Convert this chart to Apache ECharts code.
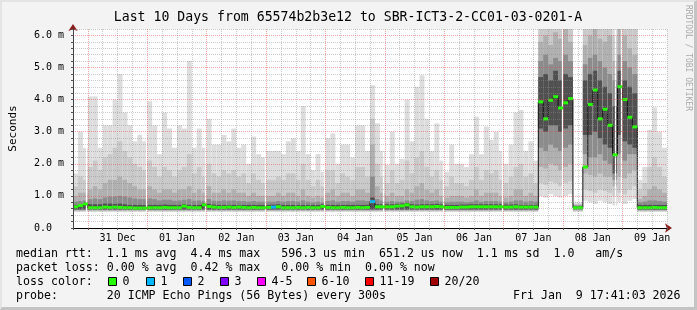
<!DOCTYPE html>
<html><head><meta charset="utf-8">
<script src="https://cdn.jsdelivr.net/npm/echarts@6/dist/echarts.min.js"></script>
<style>
html,body{margin:0;padding:0;background:#f3f3f3}
#wrap{position:relative;width:697px;height:310px}
#c{width:697px;height:310px}
#b{position:absolute;left:0;top:0;width:697px;height:310px;box-sizing:border-box;border-top:2px solid #e4e4e4;border-left:2px solid #e4e4e4;border-right:3px solid #c4c4c4;border-bottom:3px solid #c4c4c4;pointer-events:none}
</style></head><body>
<div id="wrap"><div id="c"></div><div id="b"></div></div>
<script>
// ---- data (hours counted from 30 Dec 00:00; one column = 2 h) ----
const startHour = 18;
const stepHours = 2;
const dayLabels = ['31 Dec','01 Jan','02 Jan','03 Jan','04 Jan','05 Jan','06 Jan','07 Jan','08 Jan','09 Jan'];
const gapHours = [23.5, 47.5, 71.5, 95.5, 119.5, 143.5, 167.5, 191.5, 215.5, 237.2, 239.5];

// smoke bands (ms): outermost (lightest) L1 .. innermost (darkest) L5
const L1lo = [
0.5,0.5,0.5,0.5,0.5,0.5,0.5,0.5,0.5,0.5, 0.5,0.5,0.5,0.5,0.5,0.5,0.5,0.5,0.5,0.5,
0.5,0.5,0.5,0.5,0.5,0.5,0.5,0.5,0.5,0.5, 0.5,0.5,0.5,0.5,0.5,0.5,0.5,0.5,0.5,0.5,
0.5,0.5,0.5,0.5,0.5,0.5,0.5,0.5,0.5,0.5, 0.5,0.5,0.5,0.5,0.5,0.5,0.5,0.5,0.5,0.5,
0.5,0.5,0.5,0.5,0.5,0.5,0.5,0.5,0.5,0.5, 0.5,0.5,0.5,0.5,0.5,0.5,0.5,0.5,0.5,0.5,
0.5,0.5,0.5,0.5,0.5,0.5,0.5,0.5,0.5,0.5, 0.5,0.5,0.5,0.5,1.0,0.95,1.05,1.0,0.95,1.0,
1.05,0.5,0.5,0.85,0.8,0.75,0.85,0.8,0.75,0.7, 0.8,0.75,0.85,0.9,0.5,0.5,0.5,0.5,0.5,0.5];
const L1hi = [
1.7,3.0,2.5,4.1,4.1,2.5,3.2,3.2,4.0,4.8, 3.6,3.2,2.7,2.9,2.7,3.95,3.2,2.3,3.6,3.1,
2.5,3.2,3.1,5.2,2.5,3.1,2.5,3.4,2.6,2.6, 2.9,2.7,3.1,2.5,2.6,2.0,2.85,2.3,2.2,2.4,
2.4,2.4,2.3,2.7,2.8,2.4,3.8,2.3,1.8,2.3, 1.75,2.8,2.95,2.0,2.6,2.6,2.2,3.2,3.2,2.4,
4.45,3.26,2.4,1.97,3.0,2.0,2.15,4.0,2.7,4.4, 4.76,3.4,2.4,3.26,2.1,1.75,2.6,2.0,2.0,1.9,
2.3,3.47,2.3,3.16,2.75,3.0,2.4,2.0,2.6,3.6, 3.68,2.4,2.7,2.1,7,7,7,7,7,7,
7,0.8,0.8,7,7,7,7,7,7,7, 7,7,7,7,1.5,1.9,3.06,3.76,3.0,2.5];
const L2lo = [
0.52,0.52,0.52,0.52,0.52,0.52,0.52,0.52,0.52,0.52, 0.52,0.52,0.52,0.52,0.52,0.52,0.52,0.52,0.52,0.52,
0.52,0.52,0.52,0.52,0.52,0.52,0.52,0.52,0.52,0.52, 0.52,0.52,0.52,0.52,0.52,0.52,0.52,0.52,0.52,0.52,
0.52,0.52,0.52,0.52,0.52,0.52,0.52,0.52,0.52,0.52, 0.52,0.52,0.52,0.52,0.52,0.52,0.52,0.52,0.52,0.52,
0.52,0.52,0.52,0.52,0.52,0.52,0.52,0.52,0.52,0.52, 0.52,0.52,0.52,0.52,0.52,0.52,0.52,0.52,0.52,0.52,
0.52,0.52,0.52,0.52,0.52,0.52,0.52,0.52,0.52,0.52, 0.52,0.52,0.52,0.52,1.4,1.35,1.45,1.4,1.3,1.4,
1.45,0.53,0.53,1.2,1.15,1.1,1.2,1.15,1.1,1.0, 1.1,1.05,1.2,1.3,0.52,0.52,0.52,0.52,0.52,0.52];
const L2hi = [
1.3,1.6,1.5,1.9,2.1,1.8,2.2,2.3,2.5,2.7, 2.4,2.2,2.0,1.9,1.8,2.1,1.9,1.6,1.9,1.8,
1.6,1.8,1.9,2.3,1.7,1.9,1.6,2.0,1.7,1.6, 1.8,1.7,1.8,1.6,1.7,1.4,1.7,1.5,1.4,1.5,
1.5,1.6,1.5,1.7,1.7,1.5,2.0,1.5,1.3,1.5, 1.3,1.8,1.8,1.4,1.7,1.6,1.5,1.9,1.9,1.6,
3.4,2.0,1.6,1.4,1.8,1.4,1.5,2.1,1.7,2.2, 2.4,1.9,1.6,1.8,1.5,1.3,1.6,1.4,1.4,1.3,
1.5,1.9,1.5,1.8,1.7,1.8,1.5,1.4,1.6,1.9, 2.0,1.6,1.7,1.4,6.6,6.8,6.5,6.7,6.6,6.8,
6.5,0.75,0.75,6.5,6.7,6.8,6.6,6.5,6.6,6.0, 6.8,6.6,6.5,6.3,1.2,1.4,1.9,2.2,1.9,1.6];
const L3lo = [
0.54,0.54,0.54,0.54,0.54,0.54,0.54,0.54,0.54,0.54, 0.54,0.54,0.54,0.54,0.54,0.54,0.54,0.54,0.54,0.54,
0.54,0.54,0.54,0.54,0.54,0.54,0.54,0.54,0.54,0.54, 0.54,0.54,0.54,0.54,0.54,0.54,0.54,0.54,0.54,0.54,
0.54,0.54,0.54,0.54,0.54,0.54,0.54,0.54,0.54,0.54, 0.54,0.54,0.54,0.54,0.54,0.54,0.54,0.54,0.54,0.54,
0.54,0.54,0.54,0.54,0.54,0.54,0.54,0.54,0.54,0.54, 0.54,0.54,0.54,0.54,0.54,0.54,0.54,0.54,0.54,0.54,
0.54,0.54,0.54,0.54,0.54,0.54,0.54,0.54,0.54,0.54, 0.54,0.54,0.54,0.54,1.9,1.85,2.0,1.95,1.8,1.9,
2.0,0.55,0.55,1.7,1.65,1.6,1.7,1.6,1.6,1.3, 1.6,1.55,1.7,1.8,0.54,0.54,0.54,0.54,0.54,0.54];
const L3hi = [
1.0,1.1,1.1,1.2,1.3,1.2,1.4,1.5,1.5,1.6, 1.5,1.4,1.3,1.2,1.2,1.3,1.2,1.1,1.2,1.2,
1.1,1.2,1.2,1.3,1.1,1.2,1.1,1.3,1.1,1.1, 1.2,1.1,1.2,1.1,1.1,1.0,1.1,1.0,1.0,1.0,
1.0,1.1,1.0,1.1,1.1,1.0,1.2,1.0,0.95,1.0, 0.95,1.1,1.2,1.0,1.1,1.1,1.0,1.2,1.2,1.1,
2.6,1.3,1.1,1.0,1.1,1.0,1.0,1.2,1.1,1.3, 1.4,1.2,1.1,1.2,1.0,0.95,1.0,1.0,1.0,0.95,
1.0,1.2,1.0,1.1,1.1,1.1,1.0,0.95,1.0,1.2, 1.2,1.0,1.1,1.0,5.8,6.0,5.7,6.1,5.9,6.2,
5.8,0.72,0.72,5.7,6.0,6.2,5.9,5.8,6.0,5.2, 6.3,6.0,5.6,5.4,0.9,1.0,1.2,1.3,1.2,1.1];
const L4lo = [
0.56,0.56,0.56,0.56,0.56,0.56,0.56,0.56,0.56,0.56, 0.56,0.56,0.56,0.56,0.56,0.56,0.56,0.56,0.56,0.56,
0.56,0.56,0.56,0.56,0.56,0.56,0.56,0.56,0.56,0.56, 0.56,0.56,0.56,0.56,0.56,0.56,0.56,0.56,0.56,0.56,
0.56,0.56,0.56,0.56,0.56,0.56,0.56,0.56,0.56,0.56, 0.56,0.56,0.56,0.56,0.56,0.56,0.56,0.56,0.56,0.56,
0.56,0.56,0.56,0.56,0.56,0.56,0.56,0.56,0.56,0.56, 0.56,0.56,0.56,0.56,0.56,0.56,0.56,0.56,0.56,0.56,
0.56,0.56,0.56,0.56,0.56,0.56,0.56,0.56,0.56,0.56, 0.56,0.56,0.56,0.56,2.5,2.4,2.6,2.5,2.4,2.5,
2.6,0.57,0.57,2.3,2.2,2.2,2.3,2.1,2.0,1.5, 2.3,2.1,2.3,2.3,0.56,0.56,0.56,0.56,0.56,0.56];
const L4hi = [
0.82,0.84,0.86,0.9,0.92,0.9,0.95,0.98,0.98,1.0, 0.98,0.95,0.92,0.9,0.9,0.92,0.9,0.86,0.88,0.88,
0.85,0.86,0.88,0.9,0.85,0.86,0.85,0.9,0.85,0.84, 0.86,0.85,0.86,0.84,0.84,0.82,0.84,0.82,0.82,0.82,
0.82,0.84,0.82,0.84,0.84,0.82,0.86,0.82,0.8,0.82, 0.8,0.84,0.86,0.82,0.84,0.84,0.82,0.86,0.86,0.84,
1.6,0.9,0.85,0.82,0.84,0.82,0.82,0.86,0.84,0.88, 0.9,0.86,0.84,0.86,0.82,0.8,0.82,0.82,0.82,0.8,
0.82,0.86,0.82,0.84,0.84,0.84,0.82,0.8,0.82,0.86, 0.86,0.82,0.84,0.82,5.2,5.4,5.1,5.3,5.2,5.4,
5.2,0.7,0.7,5.1,5.3,5.4,5.2,5.0,4.8,4.6, 5.4,5.2,5.0,4.8,0.8,0.82,0.86,0.86,0.84,0.82];
const L5lo = [
0.58,0.58,0.58,0.58,0.58,0.58,0.58,0.58,0.58,0.58, 0.58,0.58,0.58,0.58,0.58,0.58,0.58,0.58,0.58,0.58,
0.58,0.58,0.58,0.58,0.58,0.58,0.58,0.58,0.58,0.58, 0.58,0.58,0.58,0.58,0.58,0.58,0.58,0.58,0.58,0.58,
0.58,0.58,0.58,0.58,0.58,0.58,0.58,0.58,0.58,0.58, 0.58,0.58,0.58,0.58,0.58,0.58,0.58,0.58,0.58,0.58,
0.58,0.58,0.58,0.58,0.58,0.58,0.58,0.58,0.58,0.58, 0.58,0.58,0.58,0.58,0.58,0.58,0.58,0.58,0.58,0.58,
0.58,0.58,0.58,0.58,0.58,0.58,0.58,0.58,0.58,0.58, 0.58,0.58,0.58,0.58,3.1,3.0,3.2,3.2,3.0,3.1,
3.2,0.59,0.59,2.9,2.9,3.0,2.8,2.6,2.5,1.7, 2.9,2.7,2.6,2.5,0.58,0.58,0.58,0.58,0.58,0.58];
const L5hi = [
0.72,0.74,0.8,0.74,0.74,0.74,0.76,0.76,0.75,0.76, 0.74,0.72,0.72,0.72,0.72,0.72,0.72,0.72,0.73,0.72,
0.72,0.72,0.74,0.72,0.72,0.72,0.78,0.75,0.73,0.72, 0.72,0.72,0.72,0.72,0.72,0.72,0.72,0.72,0.72,0.72,
0.73,0.74,0.72,0.72,0.72,0.72,0.72,0.72,0.72,0.72, 0.74,0.72,0.72,0.72,0.72,0.72,0.72,0.72,0.72,0.72,
0.95,0.74,0.74,0.74,0.74,0.75,0.76,0.78,0.74,0.73, 0.74,0.74,0.74,0.75,0.74,0.72,0.72,0.72,0.73,0.73,
0.74,0.74,0.74,0.74,0.74,0.74,0.74,0.73,0.73,0.74, 0.72,0.72,0.72,0.72,4.7,4.8,4.6,4.9,4.6,4.8,
4.7,0.68,0.68,4.6,4.8,4.9,4.6,4.4,4.2,3.8, 4.9,4.6,4.4,4.2,0.72,0.72,0.72,0.72,0.72,0.72];
const median = [
0.66,0.70,0.75,0.63,0.63,0.63,0.65,0.64,0.65,0.64, 0.63,0.63,0.62,0.62,0.62,0.63,0.63,0.63,0.64,0.63,
0.63,0.63,0.68,0.64,0.63,0.63,0.72,0.67,0.65,0.64, 0.64,0.65,0.64,0.65,0.64,0.63,0.64,0.63,0.63,0.64,
0.65,0.66,0.63,0.63,0.63,0.64,0.63,0.64,0.63,0.63, 0.67,0.64,0.63,0.63,0.64,0.63,0.63,0.64,0.63,0.64,
0.82,0.66,0.66,0.66,0.66,0.68,0.69,0.72,0.66,0.65, 0.66,0.66,0.66,0.67,0.66,0.64,0.64,0.64,0.65,0.65,
0.66,0.66,0.66,0.66,0.66,0.66,0.66,0.65,0.65,0.66, 0.65,0.65,0.65,0.65,3.93,3.4,3.98,4.09,3.74,3.9,
4.03,0.63,0.63,1.9,3.85,4.3,3.4,3.7,3.2,2.28, 4.4,4.0,3.45,3.15,0.63,0.63,0.63,0.64,0.63,0.63];
const loss = [
0,0,0,0,0,0,0,0,0,0, 0,0,0,0,0,0,0,0,0,0, 0,0,0,0,0,0,0,0,0,0, 0,0,0,0,0,0,0,0,0,0,
1,0,0,0,0,0,0,0,0,0, 0,0,0,0,0,0,0,0,0,0, 1,0,0,0,0,0,0,0,0,0, 0,0,0,0,0,0,0,0,0,0,
0,0,0,0,0,0,0,0,0,0, 0,0,0,0,0,0,0,0,0,0, 0,0,0,0,0,0,0,0,0,0, 0,0,0,0,0,0,0,0,0,0];

const lossLabels = ['0','1','2','3','4-5','6-10','11-19','20/20'];
const lossColors = ['#26ff00','#00b8ff','#0059ff','#7e00ff','#ff00ff','#ff5500','#ff0000','#a10000'];

const titleText = 'Last 10 Days from 65574b2b3e12 to SBR-ICT3-2-CC01-03-0201-A';
const legendLines = [
  'median rtt:  1.1 ms avg  4.4 ms max   596.3 us min  651.2 us now  1.1 ms sd  1.0   am/s',
  'packet loss: 0.00 % avg  0.42 % max   0.00 % min  0.00 % now',
  'loss color:',
  'probe:       20 ICMP Echo Pings (56 Bytes) every 300s'
];
const stampText = 'Fri Jan  9 17:41:03 2026';
const watermark = 'RRDTOOL / TOBI OETIKER';

// ---- chart ----
const MONO = '"DejaVu Sans Mono", monospace';
const chart = echarts.init(document.getElementById('c'), null, {renderer: 'canvas'});
const colT = i => startHour + stepHours * i;
const bandDefs = [
  [L1lo, L1hi, '#dddddd'], [L2lo, L2hi, '#c9c9c9'], [L3lo, L3hi, '#b0b0b0'],
  [L4lo, L4hi, '#8c8c8c'], [L5lo, L5hi, '#505050']
];
function clip(r, cs) {
  return echarts.graphic.clipRectByRect(r, {x: cs.x, y: cs.y, width: cs.width, height: cs.height});
}
const GRID = 'rgba(140,140,140,0.45)';
const MGRID = 'rgba(230,60,60,0.45)';

const lineY = [254, 268, 282, 296];
const graphics = [];
graphics.push({type: 'text', x: 348, y: 18, z: 20, style: {text: titleText, font: '13.2px ' + MONO, fill: '#000', align: 'center', verticalAlign: 'middle'}});
legendLines.forEach((t, k) => graphics.push({type: 'text', x: 16, y: lineY[k], z: 20, style: {text: t, font: '11.6px ' + MONO, fill: '#000', align: 'left', verticalAlign: 'middle'}}));
graphics.push({type: 'text', x: 513, y: lineY[3], z: 20, style: {text: stampText, font: '11.6px ' + MONO, fill: '#000', align: 'left', verticalAlign: 'middle'}});
const boxX = [108, 146, 183, 220, 257, 307, 365, 430];
lossLabels.forEach((lab, k) => {
  graphics.push({type: 'rect', z: 20, shape: {x: boxX[k] + 0.5, y: 277.5, width: 8, height: 8}, style: {fill: lossColors[k], stroke: '#000', lineWidth: 1}});
  graphics.push({type: 'text', x: boxX[k] + 14.5, y: lineY[2], z: 20, style: {text: lab, font: '11.6px ' + MONO, fill: '#000', align: 'left', verticalAlign: 'middle'}});
});
graphics.push({type: 'text', x: 688, y: 5, rotation: -Math.PI / 2, z: 20, style: {text: watermark, font: '8px ' + MONO, fill: '#aaaaaa', align: 'left', verticalAlign: 'middle'}});

const option = {
  animation: false,
  backgroundColor: '#f3f3f3',
  grid: {left: 67, right: 30, top: 29, bottom: 82, show: true, backgroundColor: '#ffffff', borderWidth: 0},
  xAxis: [{
    type: 'value', min: 18, max: 258, interval: 6, z: 7, position: 'bottom',
    axisLine: {show: true, lineStyle: {color: '#000', width: 1}},
    axisTick: {show: true, length: 2, lineStyle: {color: '#555'}},
    axisLabel: {
      fontFamily: MONO, fontSize: 10, color: '#000', margin: 5,
      formatter: v => (v % 24 === 12 ? dayLabels[(v - 36) / 24] || '' : '')
    },
    splitLine: {show: true, lineStyle: {color: [GRID, MGRID, GRID, GRID], type: [1, 1], width: 1}}
  }, {
    type: 'value', min: 18, max: 258, z: 6, position: 'bottom',
    axisLine: {show: true, lineStyle: {color: '#8b1c1c', width: 1}, symbol: ['none', 'arrow'], symbolSize: [7, 7], symbolOffset: [0, 5]},
    axisTick: {show: false}, axisLabel: {show: false}, splitLine: {show: false}
  }],
  yAxis: [{
    type: 'value', min: 0, max: 6.2, interval: 0.2, z: 7, position: 'left',
    name: 'Seconds', nameLocation: 'middle', nameGap: 54,
    nameTextStyle: {fontFamily: MONO, fontSize: 11, color: '#000'},
    axisLine: {show: true, lineStyle: {color: '#444', width: 1}},
    axisTick: {show: true, length: 2, lineStyle: {color: '#555'}},
    axisLabel: {
      fontFamily: MONO, fontSize: 10, color: '#000', margin: 9,
      formatter: v => {
        if (Math.abs(v - Math.round(v)) > 1e-6) return '';
        const r = Math.round(v);
        return r === 0 ? '0.0  ' : r.toFixed(1) + ' m';
      }
    },
    splitLine: {show: true, lineStyle: {color: [MGRID, GRID, GRID, GRID, GRID], type: [1, 1], width: 1}}
  }, {
    type: 'value', min: 0, max: 6.2, z: 6, position: 'left',
    axisLine: {show: true, lineStyle: {color: '#8b1c1c', width: 1}, symbol: ['none', 'arrow'], symbolSize: [7, 7], symbolOffset: [0, 5]},
    axisTick: {show: false}, axisLabel: {show: false}, splitLine: {show: false}
  }],
  graphic: graphics,
  series: [
    {
      type: 'custom', z: 2, silent: true,
      data: L1hi.map((v, i) => [colT(i), L1lo[i], i]),
      encode: {x: 0, y: 1},
      renderItem: (params, api) => {
        const i = api.value(2), t = api.value(0);
        const children = [];
        for (const [lo, hi, col] of bandDefs) {
          const a = api.coord([t, hi[i]]), b = api.coord([t + stepHours, lo[i]]);
          const r = clip({x: a[0], y: a[1], width: b[0] - a[0], height: b[1] - a[1]}, params.coordSys);
          if (r) children.push({type: 'rect', shape: r, style: {fill: col}});
        }
        return {type: 'group', children};
      }
    },
    {
      type: 'line', z: 3, silent: true, data: [],
      markLine: {
        silent: true, symbol: ['none', 'none'], label: {show: false},
        lineStyle: {color: '#ffffff', width: 1.3, type: 'solid'},
        data: gapHours.map(h => ({xAxis: h}))
      }
    },
    {
      type: 'line', z: 4, silent: true, step: 'middle', symbol: 'none',
      lineStyle: {color: '#111', width: 1},
      data: median.map((m, i) => [colT(i) + stepHours / 2, m])
    },
    {
      type: 'custom', z: 5, silent: true,
      data: median.map((m, i) => [colT(i), m, loss[i]]),
      encode: {x: 0, y: 1},
      renderItem: (params, api) => {
        const t = api.value(0), m = api.value(1), l = api.value(2);
        const a = api.coord([t, m]), b = api.coord([t + stepHours, m]);
        const r = clip({x: a[0], y: a[1] - 1.5, width: b[0] - a[0], height: 3}, params.coordSys);
        return r ? {type: 'rect', shape: r, style: {fill: lossColors[l]}} : null;
      }
    }
  ]
};
chart.setOption(option);
</script>
</body></html>
